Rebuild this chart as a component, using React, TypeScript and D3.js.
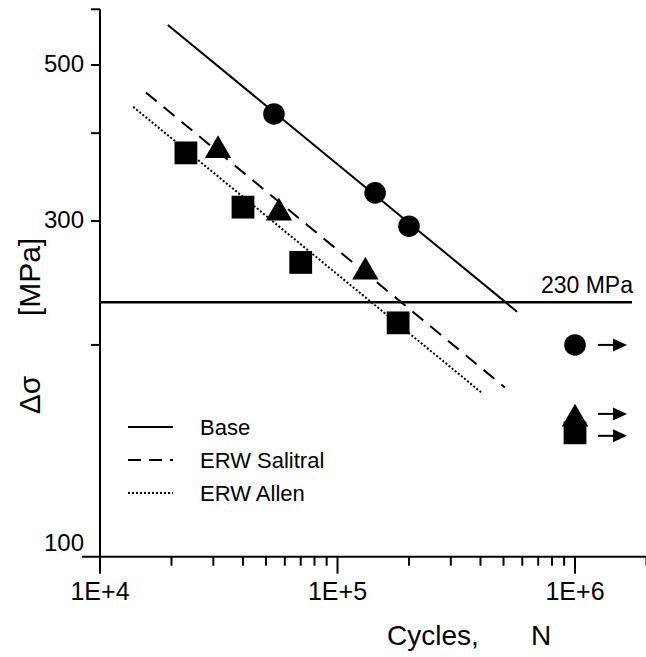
import React from 'react';
import * as d3 from 'd3';

// S-N data (cycles N, stress range in MPa)
const baseN = [5.4e4, 1.44e5, 2.0e5];
const baseS = [426, 329, 295];
const salitralN = [3.14e4, 5.67e4, 1.31e5];
const salitralS = [378, 308, 254];
const allenN = [2.3e4, 4.0e4, 7.0e4, 1.8e5];
const allenS = [375, 314, 262, 215];

// run-outs at 1E+6 (no failure)
const runoutN = [1e6, 1e6, 1e6];
const runoutS = [200, 157, 150];
const runoutSeries = ['base', 'salitral', 'allen'];

// fitted lines, two end points each
const baseFitN = [1.93e4, 5.7e5];
const baseFitS = [570, 223];
const salitralFitN = [1.56e4, 5.07e5];
const salitralFitS = [457, 174];
const allenFitN = [1.38e4, 4.05e5];
const allenFitS = [436, 171];

const threshold = 230;
const thresholdLabel = '230 MPa';

const xMajor = [1e4, 1e5, 1e6];
const xMajorLabels = ['1E+4', '1E+5', '1E+6'];
const xMinor = [2e4, 3e4, 4e4, 5e4, 6e4, 7e4, 8e4, 9e4, 2e5, 3e5, 4e5, 5e5, 6e5, 7e5, 8e5, 9e5, 2e6];
const yTicks = [200, 300, 400, 500, 600];
const yLabels = [100, 300, 500];

const legendNames = ['Base', 'ERW Salitral', 'ERW Allen'];

const font = "'Liberation Sans', Arial, sans-serif";

export default function App() {
  const width = 646;
  const height = 657;

  const x = d3.scaleLog().domain([1e4, 2e6]).range([100, 646.5]);
  const y = d3.scaleLog().domain([100, 600]).range([556.7, 9.3]);

  const fitPath = (ns: number[], ss: number[]) =>
    d3.line<number>().x(d => x(ns[d])).y(d => y(ss[d]))(ns.map((_, i) => i)) || '';

  const circle = d3.symbol().type(d3.symbolCircle).size(365)() || '';
  const square = d3.symbol().type(d3.symbolSquare).size(520)() || '';
  const triangle = d3.symbol().type(d3.symbolTriangle).size(300)() || '';
  const shapeFor: Record<string, string> = { base: circle, salitral: triangle, allen: square };
  const arrowShift: Record<string, number> = { base: 0, salitral: -5, allen: 3 };

  const styles = [
    { dash: undefined, legendDash: undefined },
    { dash: '14,9', legendDash: '13,8' },
    { dash: '2,2', legendDash: '2,2' },
  ];

  const axisY = y(100);
  const axisX = x(1e4);

  return (
    <svg width={width} height={height} style={{ position: 'absolute', left: 0, top: 0, background: '#fff' }}
      fontFamily={font}>
      {/* axes */}
      <line x1={82} x2={width} y1={axisY} y2={axisY} stroke="#000" strokeWidth={2} />
      <line x1={axisX} x2={axisX} y1={y(600)} y2={axisY} stroke="#000" strokeWidth={2} />
      {xMajor.map((t, i) => (
        <g key={'xm' + i}>
          <line x1={x(t)} x2={x(t)} y1={axisY} y2={axisY + 17} stroke="#000" strokeWidth={2} />
          <text x={x(t)} y={axisY + 43} fontSize={25} textAnchor="middle">{xMajorLabels[i]}</text>
        </g>
      ))}
      {xMinor.map((t, i) => (
        <line key={'xn' + i} x1={x(t)} x2={x(t)} y1={axisY} y2={axisY + 9} stroke="#000" strokeWidth={2} />
      ))}
      {yTicks.map((t, i) => (
        <line key={'yt' + i} x1={axisX - 9} x2={axisX} y1={y(t)} y2={y(t)} stroke="#000" strokeWidth={2} />
      ))}
      {yLabels.map((t, i) => (
        <text key={'yl' + i} x={84} y={y(t) + (t === 100 ? -14 : -2)} fontSize={24} textAnchor="end"
          dominantBaseline="central">{t}</text>
      ))}

      {/* axis titles */}
      <text transform="translate(40,395) rotate(-90)" fontSize={30} textAnchor="middle">Δσ</text>
      <text transform="translate(40,277) rotate(-90)" fontSize={30} textAnchor="middle">[MPa]</text>
      <text x={387} y={645} fontSize={28}>Cycles,</text>
      <text x={531} y={645} fontSize={28}>N</text>

      {/* threshold */}
      <line x1={axisX} x2={632} y1={y(threshold)} y2={y(threshold)} stroke="#000" strokeWidth={2.5} />
      <text x={633} y={y(threshold) - 9} fontSize={23} textAnchor="end">{thresholdLabel}</text>

      {/* fitted lines */}
      <path d={fitPath(baseFitN, baseFitS)} fill="none" stroke="#000" strokeWidth={2} />
      <path d={fitPath(salitralFitN, salitralFitS)} fill="none" stroke="#000" strokeWidth={2}
        strokeDasharray={styles[1].dash} />
      <path d={fitPath(allenFitN, allenFitS)} fill="none" stroke="#000" strokeWidth={2}
        strokeDasharray={styles[2].dash} />

      {/* data points */}
      {baseN.map((n, i) => (
        <path key={'b' + i} d={circle} transform={`translate(${x(n)},${y(baseS[i])})`} fill="#000" />
      ))}
      {salitralN.map((n, i) => (
        <path key={'s' + i} d={triangle} transform={`translate(${x(n)},${y(salitralS[i])})`} fill="#000" />
      ))}
      {allenN.map((n, i) => (
        <path key={'a' + i} d={square} transform={`translate(${x(n)},${y(allenS[i])})`} fill="#000" />
      ))}

      {/* run-outs with arrows */}
      {runoutN.map((n, i) => {
        const cx = x(n);
        const cy = y(runoutS[i]);
        const ay = cy + arrowShift[runoutSeries[i]];
        return (
          <g key={'r' + i}>
            <path d={shapeFor[runoutSeries[i]]} transform={`translate(${cx},${cy})`} fill="#000" />
            <line x1={cx + 23} x2={cx + 40} y1={ay} y2={ay} stroke="#000" strokeWidth={2} />
            <path d={`M${cx + 38},${ay - 6.5}L${cx + 52},${ay}L${cx + 38},${ay + 6.5}Z`} fill="#000" />
          </g>
        );
      })}

      {/* legend */}
      {legendNames.map((name, i) => {
        const ly = 427 + i * 33;
        return (
          <g key={'lg' + i}>
            <line x1={128} x2={173} y1={ly} y2={ly} stroke="#000" strokeWidth={2}
              strokeDasharray={styles[i].legendDash} />
            <text x={200} y={ly} fontSize={22} dominantBaseline="central">{name}</text>
          </g>
        );
      })}
    </svg>
  );
}
